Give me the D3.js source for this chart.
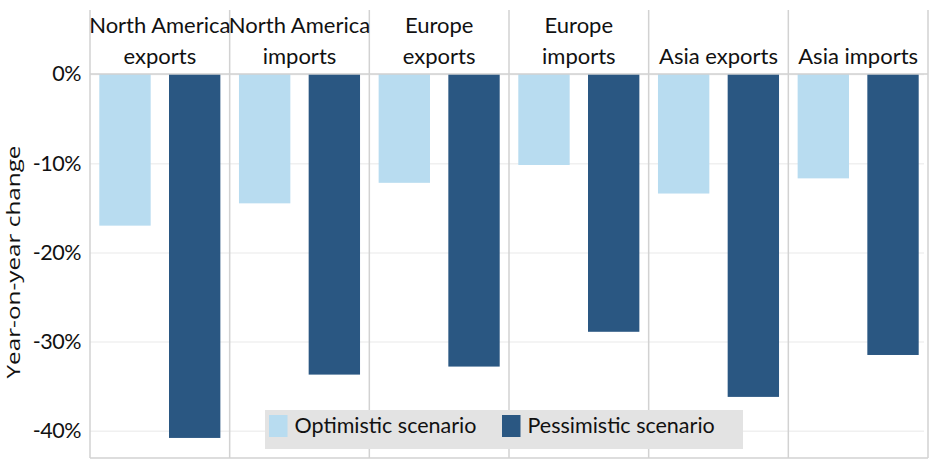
<!DOCTYPE html>
<html>
<head>
<meta charset="utf-8">
<script src="https://cdn.jsdelivr.net/npm/d3@7"></script>
<style>
    html, body { margin: 0; padding: 0; background: #fff; }
    svg { display: block; }
    text { font-family: Lato, sans-serif; fill: #111; }
</style>
</head>
<body>
<div id="chart"></div>
<script>
const panels = ["North America exports", "North America imports", "Europe exports", "Europe imports", "Asia exports", "Asia imports"]
const panelLines = [["North America", "exports"], ["North America", "imports"], ["Europe", "exports"], ["Europe", "imports"], ["Asia exports"], ["Asia imports"]]
const scenarios = ["Optimistic scenario", "Pessimistic scenario"]
const optimistic = [-17.0, -14.5, -12.2, -10.2, -13.4, -11.7]
const pessimistic = [-40.8, -33.7, -32.8, -28.9, -36.2, -31.5]
const yTicks = [0, -10, -20, -30, -40]
const colors = ["#b8dcf0", "#2a5782"]

const width = 935
const height = 470
const margin = {top: 74, right: 7, bottom: 12, left: 90}
const plotBottom = height - margin.bottom

const svg = d3.select("#chart").append("svg")
    .attr("width", width)
    .attr("height", height)

// one panel per region and direction
const xPanel = d3.scaleBand()
    .domain(panels)
    .range([margin.left, width - margin.right])

const xBar = d3.scaleBand()
    .domain(scenarios)
    .range([0, xPanel.bandwidth()])
    .paddingInner(0.263)
    .paddingOuter(0.1335)

// -10% sits 89.2px under the zero line
const y = d3.scaleLinear()
    .domain([0, -43])
    .range([margin.top, margin.top + 43 * 8.92])

// y axis, the tick lines double as the faint gridlines
const yAxis = d3.axisLeft(y)
    .tickValues(yTicks)
    .tickSize(-(width - margin.right - margin.left - 4))
    .tickPadding(9)
    .tickFormat(d => d + "%")

const yG = svg.append("g")
    .attr("transform", `translate(${margin.left},0)`)
    .call(yAxis)
yG.select(".domain").remove()
yG.selectAll(".tick line").attr("stroke", "#f0f0f0").attr("stroke-width", 1.5)
yG.selectAll(".tick text")
    .attr("font-size", 21.5)
    .style("font-family", "Lato, sans-serif")
    .style("letter-spacing", "-0.5px")

// axis title
svg.append("text")
    .attr("transform", "translate(20,262) rotate(-90)")
    .attr("text-anchor", "middle")
    .attr("font-size", 18.5)
    .style("font-family", "'Open Sans', sans-serif")
    .attr("textLength", 233)
    .attr("lengthAdjust", "spacingAndGlyphs")
    .text("Year-on-year change")

// bars
const series = [optimistic, pessimistic]
series.forEach((values, s) => {
    svg.selectAll(".bar-" + s)
        .data(values)
        .enter()
        .append("rect")
        .attr("class", "bar-" + s)
        .attr("x", (d, i) => xPanel(panels[i]) + xBar(scenarios[s]))
        .attr("y", y(0))
        .attr("width", xBar.bandwidth())
        .attr("height", d => y(d) - y(0))
        .style("fill", colors[s])
})

// panel frame
const frameColor = "#d2d2d2"
const edges = panels.map(p => xPanel(p)).concat([width - margin.right])
svg.selectAll(".divider")
    .data(edges)
    .enter()
    .append("line")
    .attr("class", "divider")
    .attr("x1", d => d)
    .attr("x2", d => d)
    .attr("y1", 10)
    .attr("y2", plotBottom)
    .attr("stroke", frameColor)
    .attr("stroke-width", 1.5)

svg.append("line")
    .attr("x1", margin.left).attr("x2", width - margin.right)
    .attr("y1", plotBottom).attr("y2", plotBottom)
    .attr("stroke", frameColor).attr("stroke-width", 1.5)

svg.append("line")
    .attr("x1", margin.left).attr("x2", width - margin.right)
    .attr("y1", margin.top).attr("y2", margin.top)
    .attr("stroke", frameColor).attr("stroke-width", 1.5)

// panel headers, bottom aligned
panels.forEach((p, i) => {
    const lines = panelLines[i]
    const t = svg.append("text")
        .attr("text-anchor", "middle")
        .attr("font-size", 22)
    lines.forEach((line, j) => {
        t.append("tspan")
            .attr("x", xPanel(p) + xPanel.bandwidth() / 2)
            .attr("y", 64 - (lines.length - 1 - j) * 31)
            .text(line)
    })
})

// legend
const legend = svg.append("g")
legend.append("rect")
    .attr("x", 265).attr("y", 410)
    .attr("width", 478).attr("height", 39)
    .style("fill", "#e3e3e3")

const legendX = d3.scaleOrdinal().domain(scenarios).range([269, 502])
scenarios.forEach((s, i) => {
    legend.append("rect")
        .attr("x", legendX(s)).attr("y", 415)
        .attr("width", 18.5).attr("height", 22)
        .style("fill", colors[i])
    legend.append("text")
        .attr("x", legendX(s) + 25.5).attr("y", 433)
        .attr("font-size", 21.5)
        .text(s)
})
</script>
</body>
</html>
